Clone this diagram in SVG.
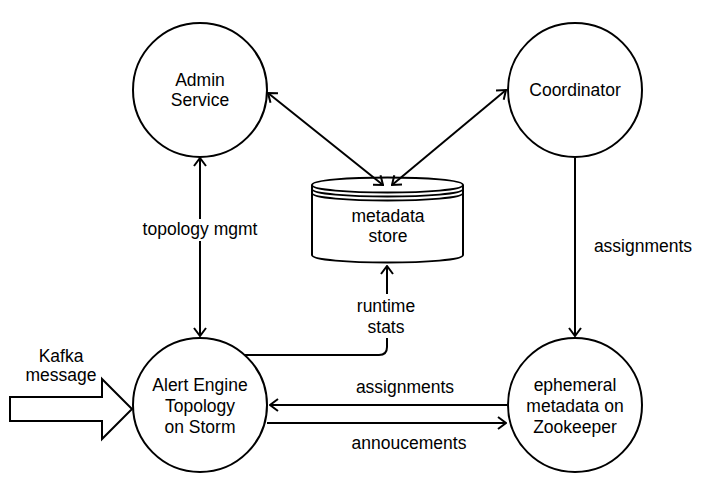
<svg xmlns="http://www.w3.org/2000/svg" width="717" height="487" viewBox="0 0 717 487">
<style>
.node{fill:#fff;stroke:#000;stroke-width:2}
.edge{fill:none;stroke:#000;stroke-width:2}
text{font-family:"Liberation Sans",Arial,sans-serif;font-size:17.5px;fill:#000;text-anchor:middle}
.bg{fill:#fff;stroke:none}
</style>
<defs>
<marker id="arr" viewBox="0 0 10 14" refX="9" refY="7" markerWidth="10" markerHeight="14" markerUnits="userSpaceOnUse" orient="auto-start-reverse">
<path d="M1,1 L9,7 L1,13" fill="none" stroke="#000" stroke-width="2"/>
</marker>
</defs>
<rect width="717" height="487" fill="#fff"/>
<g id="kafka">
<polygon class="node" points="10,397 102,397 102,379 132,409 102,439 102,421 10,421"/>
<text x="61" y="362">Kafka</text>
<text x="61" y="381">message</text>
</g>
<g id="admin">
<circle class="node" cx="200" cy="90" r="67"/>
<text x="200" y="86">Admin</text>
<text x="200" y="106">Service</text>
</g>
<g id="coordinator">
<circle class="node" cx="575" cy="90" r="67"/>
<text x="575" y="96">Coordinator</text>
</g>
<g id="metadata">
<path class="node" d="M312,185 C312,175 463,175 463,185 L463,255 C463,265 312,265 312,255 Z"/>
<path class="edge" d="M312,185 C312,195 463,195 463,185 M312,189 C312,199 463,199 463,189 M312,193 C312,203 463,203 463,193" stroke-width="1.5"/>
<text x="388" y="222">metadata</text>
<text x="388" y="242">store</text>
</g>
<g id="alert">
<circle class="node" cx="200" cy="405" r="67"/>
<text x="200" y="391">Alert Engine</text>
<text x="200" y="412">Topology</text>
<text x="200" y="433">on Storm</text>
</g>
<g id="zookeeper">
<circle class="node" cx="575" cy="405" r="67"/>
<text x="575" y="391">ephemeral</text>
<text x="575" y="412">metadata on</text>
<text x="575" y="433">Zookeeper</text>
</g>
<g id="connectors">
<line class="edge" x1="268" y1="93" x2="383" y2="185" marker-start="url(#arr)" marker-end="url(#arr)"/>
<line class="edge" x1="506" y1="90" x2="392" y2="185" marker-start="url(#arr)" marker-end="url(#arr)"/>
<line class="edge" x1="200" y1="158" x2="200" y2="336" marker-start="url(#arr)" marker-end="url(#arr)"/>
<rect class="bg" x="140" y="219" width="121" height="22"/>
<text x="200" y="235">topology mgmt</text>
<line class="edge" x1="575" y1="158" x2="575" y2="336" marker-end="url(#arr)"/>
<text x="643" y="252">assignments</text>
<path class="edge" d="M245,355 L379,355 Q387,355 387,347 L387,266" marker-end="url(#arr)"/>
<rect class="bg" x="355" y="294" width="64" height="44"/>
<text x="386" y="312">runtime</text>
<text x="386" y="333">stats</text>
<line class="edge" x1="507" y1="405" x2="270" y2="405" marker-end="url(#arr)"/>
<text x="405" y="393">assignments</text>
<line class="edge" x1="267" y1="423" x2="506" y2="423" marker-end="url(#arr)"/>
<text x="409" y="449">annoucements</text>
</g>
</svg>
